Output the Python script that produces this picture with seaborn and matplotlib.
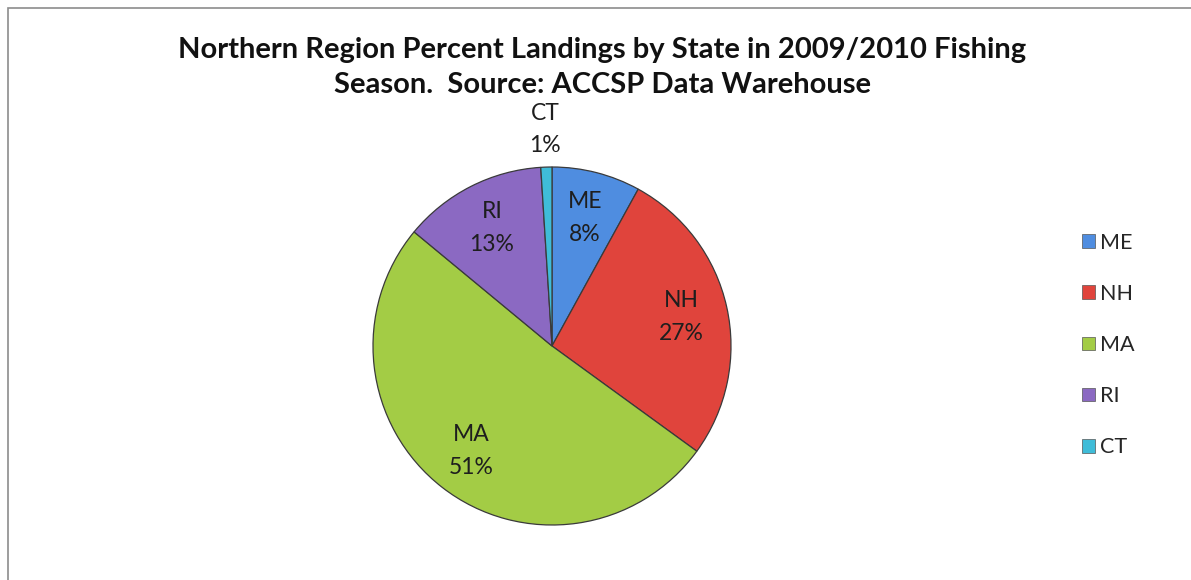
import matplotlib.pyplot as plt
import numpy as np
import seaborn as sns
from matplotlib.patches import Patch, Rectangle

sns.set_theme(style="white")
plt.rcParams["font.family"] = ["Lato", "DejaVu Sans"]

states = ["ME", "NH", "MA", "RI", "CT"]
percents = [8, 27, 51, 13, 1]
colors = sns.color_palette(["#4F8DE0", "#E0443C", "#A3CC45", "#8B69C2", "#3FBCD8"])

fig = plt.figure(figsize=(11.91, 5.80), dpi=100)
W, H = 1191, 580

# gray chart frame (right/bottom edges run off the picture)
fig.patches.append(Rectangle((8 / W, -0.1), 1.2, 1 - 8 / H + 0.1, transform=fig.transFigure,
                             fill=False, edgecolor="#8c8c8c", linewidth=1.2))

cx, cy, r = 552, 346, 179
ax = fig.add_axes([(cx - r) / W, (H - cy - r) / H, 2 * r / W, 2 * r / H])

labels = [f"{s}\n{p}%" for s, p in zip(states, percents)]
wedges, texts = ax.pie(percents, labels=labels, colors=colors, startangle=90,
                       counterclock=False, labeldistance=0.74,
                       wedgeprops=dict(edgecolor="#3a3a3a", linewidth=0.9),
                       textprops=dict(fontsize=16.5, color="#1e1e1e", linespacing=1.7))
for w, t in zip(wedges, texts):
    t.set_ha("center")
    t.set_va("center")
# tiny CT slice gets its label outside the pie
ct = wedges[-1]
ang = np.deg2rad((ct.theta1 + ct.theta2) / 2)
texts[-1].set_position((1.21 * np.cos(ang), 1.21 * np.sin(ang)))

ax.set_xlim(-1, 1)
ax.set_ylim(-1, 1)
ax.set_aspect("equal")
ax.axis("off")

fig.text(602 / W, 1 - 67.5 / H,
         "Northern Region Percent Landings by State in 2009/2010 Fishing\nSeason.  Source: ACCSP Data Warehouse",
         ha="center", va="center", fontsize=21, fontweight="bold", linespacing=1.4, color="#111111")

handles = [Patch(facecolor=c, edgecolor="#555555", linewidth=0.5) for c in colors]
fig.legend(handles, states, loc="center left", bbox_to_anchor=(1071 / W, 1 - 345 / H),
           frameon=False, fontsize=15.5, handlelength=0.6, handleheight=0.6,
           handletextpad=0.25, labelspacing=1.45, borderpad=0)

fig.savefig("out.png", dpi=100)
